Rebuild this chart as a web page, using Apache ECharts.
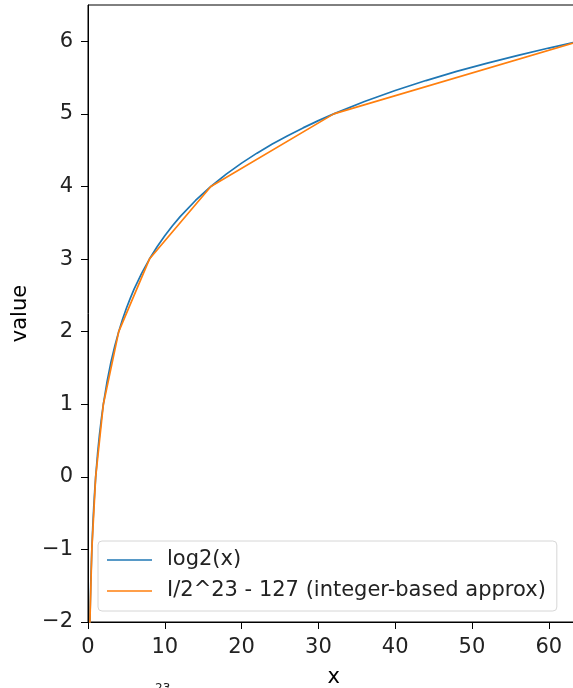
<!DOCTYPE html>
<html>
<head>
<meta charset="utf-8">
<script src="https://cdn.jsdelivr.net/npm/echarts@6/dist/echarts.min.js"></script>
<style>html,body{margin:0;padding:0;background:#fff}#c{width:573px;height:688px}</style>
</head>
<body>
<div id="c"></div>
<script>
// log2(x) curve samples
const logX = [0.125,0.25,0.3,0.375,0.5,0.625,0.75,0.875,1,1.25,1.5,1.75,2,2.5,3,3.5,4,4.5,5,5.5,6,7,8,9,10,11,12,14,16,18,20,22,24,26,28,30,32,36,40,44,48,52,56,60,64];
const logY = [-3,-2,-1.737,-1.415,-1,-0.678,-0.415,-0.193,0,0.322,0.585,0.807,1,1.322,1.585,1.807,2,2.170,2.322,2.459,2.585,2.807,3,3.170,3.322,3.459,3.585,3.807,4,4.170,4.322,4.459,4.585,4.700,4.807,4.907,5,5.170,5.322,5.459,5.585,5.700,5.807,5.907,6];
// integer-based approximation (piecewise linear between powers of two)
const approxX = [0.125,0.25,0.5,1,2,4,8,16,32,64];
const approxY = [-3,-2,-1,0,1,2,3,4,5,6];
const xTicks = [0,10,20,30,40,50,60];
const yTicks = [-2,-1,0,1,2,3,4,5,6];
const seriesNames = ['log2(x)', 'I/2^23 - 127 (integer-based approx)'];

const font = 'DejaVu Sans';
const fs = 21;
const chart = echarts.init(document.getElementById('c'), null, {renderer:'canvas'});
const minus = v => String(v).replace('-', '\u2212');
const lineIcon = 'path://M0,0 H45 V1.6 H0 Z';
chart.setOption({
  animation: false,
  textStyle: {fontFamily: font},
  grid: {left: 88, top: 5, bottom: 66, right: -6.5, containLabel: false, outerBoundsMode: 'none',
         show: true, borderColor: '#000', borderWidth: 1},
  xAxis: {
    type: 'value', min: 0, max: 64,
    name: 'x', nameLocation: 'middle', nameGap: 45,
    nameTextStyle: {fontSize: fs, color: '#000', fontFamily: font},
    axisLine: {show: true, onZero: false, lineStyle: {color: '#000', width: 1}},
    axisTick: {show: true, length: 7, customValues: xTicks, lineStyle: {color: '#000'}},
    axisLabel: {customValues: xTicks, fontSize: fs, color: '#222', margin: 15, fontFamily: font, formatter: minus},
    splitLine: {show: false}
  },
  yAxis: {
    type: 'value', min: -2, max: 6.5,
    name: 'value', nameLocation: 'middle', nameGap: 52, nameRotate: 90,
    nameTextStyle: {fontSize: fs, color: '#000', fontFamily: font},
    axisLine: {show: true, onZero: false, lineStyle: {color: '#000', width: 1}},
    axisTick: {show: true, length: 7, customValues: yTicks, lineStyle: {color: '#000'}},
    axisLabel: {customValues: yTicks, fontSize: fs, color: '#222', margin: 15, fontFamily: font, formatter: minus},
    splitLine: {show: false}
  },
  legend: {
    orient: 'vertical', left: 98, top: 541,
    padding: [7, 11, 8, 9],
    itemGap: 7, itemWidth: 45, itemHeight: 2,
    backgroundColor: 'rgba(255,255,255,0.8)',
    borderColor: '#d6d6d6', borderWidth: 1, borderRadius: 4,
    textStyle: {fontSize: fs, lineHeight: 24, color: '#222', fontFamily: font, padding: [0,0,0,10]},
    data: [{name: seriesNames[0], icon: lineIcon}, {name: seriesNames[1], icon: lineIcon}]
  },
  series: [
    {
      name: seriesNames[0], type: 'line', symbol: 'none', clip: true,
      data: logX.map((x, i) => [x, logY[i]]),
      lineStyle: {color: '#1f77b4', width: 1.7}, itemStyle: {color: '#1f77b4'}
    },
    {
      name: seriesNames[1], type: 'line', symbol: 'none', clip: true,
      data: approxX.map((x, i) => [x, approxY[i]]),
      lineStyle: {color: '#ff7f0e', width: 1.7}, itemStyle: {color: '#ff7f0e'}
    }
  ],
  graphic: [
    {type: 'text', left: 155, top: 683, style: {text: '23', fontSize: 12, fill: '#222', fontFamily: font}}
  ]
});
</script>
</body>
</html>
